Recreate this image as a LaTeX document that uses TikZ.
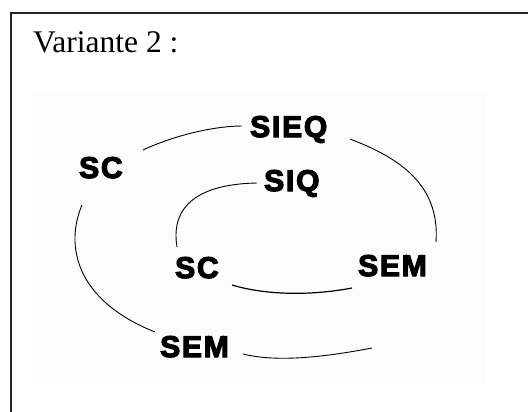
\documentclass[tikz,border=0pt]{standalone}
\usepackage{fontspec}
\setmainfont{Liberation Serif}
\newfontfamily\labfont[LetterSpace=6,FakeBold=4]{Liberation Sans Bold}
\usetikzlibrary{calc}
\begin{document}
\begin{tikzpicture}[x=1pt,y=-1pt,
  lab/.style={font=\labfont\fontsize{30}{30}\selectfont, inner sep=0pt, anchor=base west},
  curve/.style={draw=black, line width=0.9pt},
  frame/.style={draw=black!85, line width=2pt}]
\useasboundingbox (0,0) rectangle (528,412);
\fill[black!1] (32,92) rectangle (487,384);
\draw[frame] (530,13) -- (11,13) -- (11,414);
\node[font=\fontsize{31.5}{31.5}\selectfont, inner sep=0pt, anchor=base west] (title) at (33,53) {Variante 2 :};
% labels
\node[lab] (sieq) at (250,137) {SIEQ};
\node[lab] (sco)  at (79,178) {SC};
\node[lab] (siq)  at (264,191) {SIQ};
\node[lab] (sci)  at (175,278) {SC};
\node[lab] (semr) at (358,276) {SEM};
\node[lab] (semb) at (160,357) {SEM};
% connectors
\draw[curve] ($(sieq.base west)+(-8,-11)$) .. controls ($(sieq.base west)+(-35,-11)$) and ($(sco.base west)+(96,-43)$) .. ($(sco.base west)+(64,-28)$);
\draw[curve] ($(sieq.base west)+(100,2)$) .. controls ($(sieq.base west)+(150,21)$) and ($(semr.base west)+(82,-91)$) .. ($(semr.base west)+(78,-34)$);
\draw[curve] ($(sco.base west)+(3,27)$) .. controls ($(sco.base west)+(-14,67)$) and ($(semb.base west)+(-85,-57)$) .. ($(semb.base west)+(-5,-25)$);
\draw[curve] ($(semb.base west)+(83,-3)$) .. controls ($(semb.base west)+(115,5)$) and ($(semb.base west)+(160,1)$) .. ($(semb.base west)+(212,-9)$);
\draw[curve] ($(siq.base west)+(-7,-8)$) .. controls ($(siq.base west)+(-64,-7)$) and ($(sci.base west)+(-5,-73)$) .. ($(sci.base west)+(2,-31)$);
\draw[curve, line width=1.2pt] ($(sci.base west)+(57,7)$) .. controls ($(sci.base west)+(90,17)$) and ($(semr.base west)+(-48,20)$) .. ($(semr.base west)+(-6,12)$);
\end{tikzpicture}
\end{document}
